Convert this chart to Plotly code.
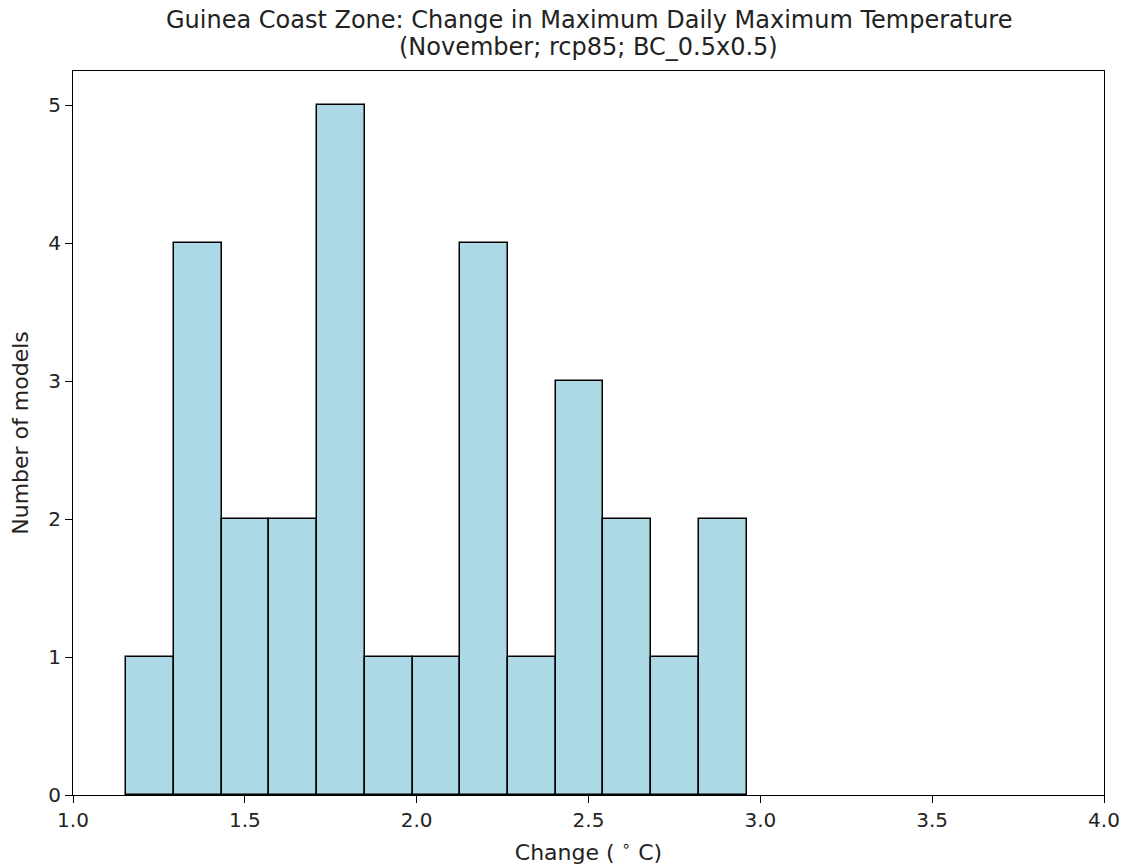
import plotly.graph_objects as go

counts = [1, 4, 2, 2, 5, 1, 1, 4, 1, 3, 2, 1, 2]
bin_start = 1.155
bin_end = 2.960
x_ticks = [1.0, 1.5, 2.0, 2.5, 3.0, 3.5, 4.0]
y_ticks = [0, 1, 2, 3, 4, 5]
title_line1 = "Guinea Coast Zone: Change in Maximum Daily Maximum Temperature"
title_line2 = "(November; rcp85; BC_0.5x0.5)"
x_label = "Change ( <sup>∘</sup> C)"
y_label = "Number of models"

n = len(counts)
w = (bin_end - bin_start) / n
centers = [bin_start + w * (i + 0.5) for i in range(n)]

fig = go.Figure(go.Bar(
    x=centers, y=counts, width=[w] * n,
    marker=dict(color="#add8e6", line=dict(color="black", width=1.5)),
))

font = "DejaVu Sans, sans-serif"
axis_common = dict(
    showline=True, linecolor="black", linewidth=1.2, mirror=True,
    ticks="outside", ticklen=7, tickcolor="black", tickwidth=1.2,
    showgrid=False, zeroline=False, automargin=False,
    tickfont=dict(family=font, size=20, color="#222"),
)

W, H = 1119, 859
T, B = 63, 72
fig.update_layout(
    width=W, height=H,
    margin=dict(l=65, r=23, t=T, b=B),
    plot_bgcolor="white", paper_bgcolor="white",
    showlegend=False,
    bargap=0,
    xaxis=dict(range=[1.0, 4.0], tickvals=x_ticks, ticktext=[f"{v:.1f}" for v in x_ticks],
               title=dict(text=x_label, font=dict(family=font, size=22, color="#222"), standoff=13),
               **axis_common),
    yaxis=dict(range=[0, 5.25], tickvals=y_ticks,
               title=dict(text=y_label, font=dict(family=font, size=22, color="#222"), standoff=14),
               **axis_common),
)

fig.add_annotation(text=title_line1, xref="paper", x=0.5, yref="paper", y=1 + (T - 12) / (H - T - B),
                   xanchor="center", yanchor="middle", showarrow=False,
                   font=dict(family=font, size=24, color="#222"))
fig.add_annotation(text=title_line2, xref="paper", x=0.5, yref="paper", y=1 + (T - 39) / (H - T - B),
                   xanchor="center", yanchor="middle", showarrow=False,
                   font=dict(family=font, size=24, color="#222"))

fig.write_html("out.html")
